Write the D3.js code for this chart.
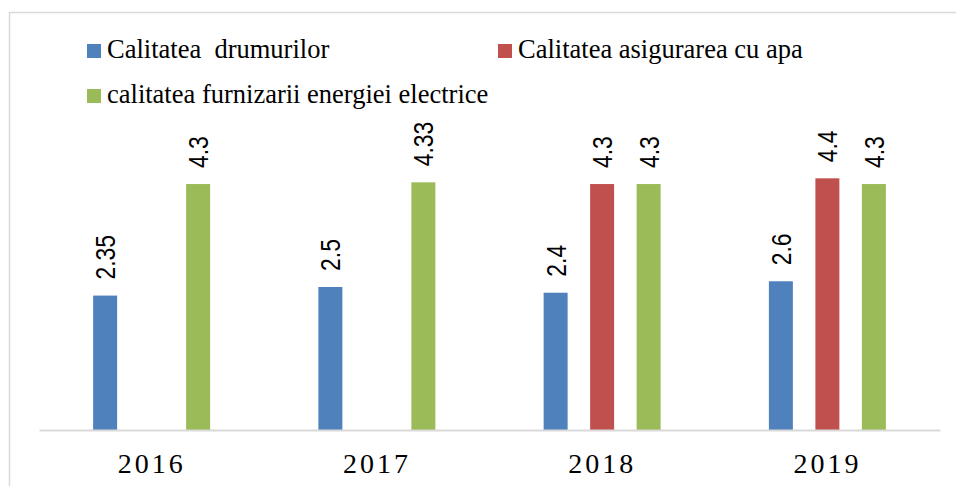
<!DOCTYPE html>
<html>
<head>
<meta charset="utf-8">
<script src="https://cdn.jsdelivr.net/npm/d3@7"></script>
<style>
  body { margin: 0; background: #fff; }
</style>
</head>
<body>
<div id="chart"></div>
<script>
// date
var years = ["2016", "2017", "2018", "2019"];
var seriesNames = ["Calitatea  drumurilor", "Calitatea asigurarea cu apa", "calitatea furnizarii energiei electrice"];
var drumuri = [2.35, 2.5, 2.4, 2.6];
var apa = [null, null, 4.3, 4.4];
var energie = [4.3, 4.33, 4.3, 4.3];
var colors = ["#4F81BD", "#C0504D", "#9BBB59"];

var W = 956, H = 486;
var serif = "'Liberation Serif', 'Times New Roman', serif";
var svg = d3.select("#chart").append("svg")
    .attr("width", W)
    .attr("height", H);

// chenarul graficului
svg.append("rect")
    .attr("x", 9.5).attr("y", 12.5)
    .attr("width", 960).attr("height", 490)
    .attr("fill", "none")
    .attr("stroke", "#d9d9d9")
    .attr("stroke-width", 1.5);

var x0 = d3.scaleBand().domain(years).range([39, 940]);
var x1 = d3.scaleBand().domain(d3.range(3)).range([-69.75, 69.75])
    .paddingInner(0.484).paddingOuter(0.242);
var y = d3.scaleLinear().domain([0, 5]).range([430, 144]);

var rows = [];
var allVals = [drumuri, apa, energie];
years.forEach(function(yr, i){
    for (var s = 0; s < 3; s++) {
        if (allVals[s][i] != null) rows.push({year: yr, s: s, v: allVals[s][i]});
    }
});

svg.selectAll("rect.bar").data(rows).enter().append("rect")
    .attr("class", "bar")
    .attr("x", function(d){ return x0(d.year) + x0.bandwidth()/2 + x1(d.s); })
    .attr("y", function(d){ return y(d.v); })
    .attr("width", x1.bandwidth())
    .attr("height", function(d){ return y(0) - y(d.v); })
    .attr("fill", function(d){ return colors[d.s]; });

// etichete valori
svg.selectAll("text.lbl").data(rows).enter().append("text")
    .attr("class", "lbl")
    .attr("transform", function(d){
        var cx = x0(d.year) + x0.bandwidth()/2 + x1(d.s) + x1.bandwidth()/2 + 10;
        return "translate(" + cx + "," + (y(d.v) - 16) + ") rotate(-90) scale(0.85,1)";
    })
    .style("font-family", "'Liberation Sans', Arial, sans-serif")
    .style("font-size", "27px")
    .attr("fill", "#000")
    .text(function(d){ return d.v; });

// axa x
var xAxis = svg.append("g")
    .attr("transform", "translate(0," + y(0) + ")")
    .call(d3.axisBottom(x0).tickSize(0).tickPadding(0));
xAxis.select(".domain").attr("stroke", "#d9d9d9").attr("stroke-width", 2);
xAxis.selectAll("text")
    .attr("dy", 0)
    .attr("y", 43)
    .style("font-family", serif)
    .style("font-size", "28px")
    .style("letter-spacing", "3px")
    .attr("fill", "#000");

// legenda
var legPos = [[87, 44], [498, 44], [87, 89]];
var leg = svg.selectAll("g.leg").data(seriesNames).enter().append("g")
    .attr("class", "leg")
    .attr("transform", function(d, i){ return "translate(" + legPos[i][0] + "," + legPos[i][1] + ")"; });
leg.append("rect")
    .attr("width", 14).attr("height", 14)
    .attr("fill", function(d, i){ return colors[i]; });
leg.append("text")
    .attr("x", 20).attr("y", 14)
    .style("font-family", serif)
    .style("font-size", "26.5px")
    .style("white-space", "pre")
    .attr("fill", "#000")
    .text(function(d){ return d; });
</script>
</body>
</html>
